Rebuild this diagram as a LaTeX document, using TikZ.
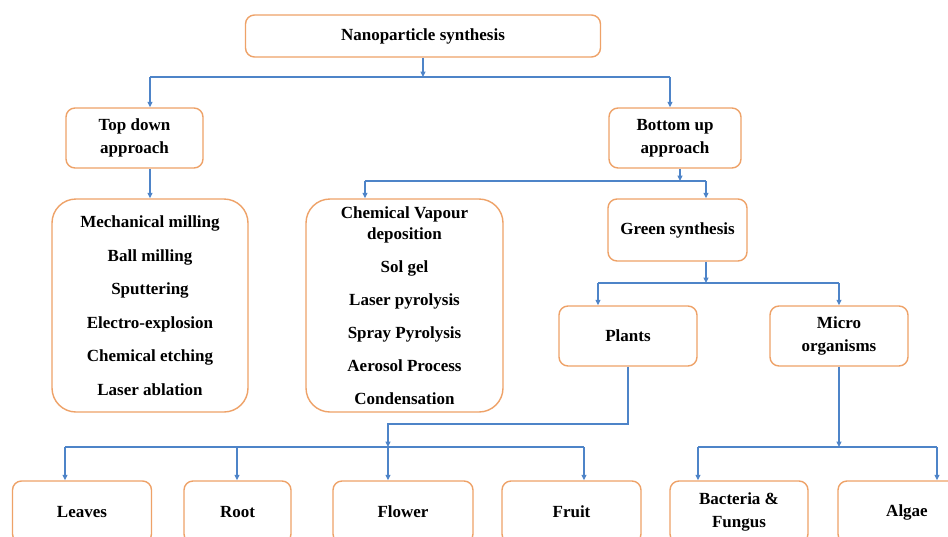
\documentclass[tikz,border=0pt]{standalone}
\usepackage{fontspec}
\setmainfont{Liberation Serif}
\usetikzlibrary{arrows.meta}
\definecolor{boxorange}{RGB}{238,162,104}
\definecolor{lineblue}{RGB}{78,132,200}
\begin{document}
\begin{tikzpicture}[x=1pt,y=-1pt,
  box/.style={draw=boxorange, line width=1.4pt, rounded corners=9pt, fill=white,
    align=center, inner sep=0pt, font=\fontsize{17}{23}\selectfont\bfseries},
  listbox/.style={box, rounded corners=24pt, font=\fontsize{17}{33.5}\selectfont\bfseries},
  ln/.style={draw=lineblue, line width=1.1pt},
  arr/.style={ln, -{Triangle[length=5.5pt,width=5pt]}}]
\useasboundingbox (0,0) rectangle (948,536);
\clip (0,0) rectangle (948,536);

% boxes
\node[box, minimum width=355pt, minimum height=42pt] (nano) at (423,36) {Nanoparticle synthesis};
\node[box, minimum width=137pt, minimum height=60pt] (td) at (134.5,138) {Top down\\approach};
\node[box, minimum width=132pt, minimum height=60pt] (bu) at (675,138) {Bottom up\\approach};
\node[listbox, minimum width=196pt, minimum height=213pt] (l1) at (150,305.5)
  {Mechanical milling\\Ball milling\\Sputtering\\Electro-explosion\\Chemical etching\\Laser ablation};
\node[listbox, minimum width=197pt, minimum height=213pt, font=\fontsize{17}{33}\selectfont\bfseries] (l2) at (404.5,305.5)
  {Chemical Vapour\\[-12pt]deposition\\Sol gel\\Laser pyrolysis\\Spray Pyrolysis\\Aerosol Process\\Condensation};
\node[box, minimum width=139pt, minimum height=62pt] (green) at (677.5,230) {Green synthesis};
\node[box, minimum width=138pt, minimum height=60pt] (plants) at (628,336) {Plants};
\node[box, minimum width=138pt, minimum height=60pt] (micro) at (839,336) {Micro\\organisms};
\node[box, minimum width=139pt, minimum height=62pt] (leaves) at (82,512) {Leaves};
\node[box, minimum width=107pt, minimum height=62pt] (root) at (237.5,512) {Root};
\node[box, minimum width=140pt, minimum height=62pt] (flower) at (403,512) {Flower};
\node[box, minimum width=139pt, minimum height=62pt] (fruit) at (571.5,512) {Fruit};
\node[box, minimum width=138pt, minimum height=62pt] (bact) at (739,512) {Bacteria \&\\Fungus};
\node[box, minimum width=138pt, minimum height=62pt] (algae) at (907,512) {Algae};

% junction coordinates
\coordinate (j1) at (423,77);
\coordinate (tdin) at (150,77);
\coordinate (buin) at (670,77);
\coordinate (j2) at (680,181);
\coordinate (l2in) at (365,181);
\coordinate (gin) at (706,181);
\coordinate (j3) at (706,283);
\coordinate (pin) at (598,283);
\coordinate (min) at (839,283);
\coordinate (k1) at (628,424);
\coordinate (k2) at (388,424);
\coordinate (j4) at (388,447);
\coordinate (lvin) at (65,447);
\coordinate (rtin) at (237,447);
\coordinate (frin) at (584,447);
\coordinate (j5) at (839,447);
\coordinate (bain) at (698,447);
\coordinate (alin) at (937,447);

% connectors
\draw[arr] (nano.south) -- (j1);
\draw[ln] (tdin) -- (buin);
\draw[arr] (tdin) -- (tdin |- td.north);
\draw[arr] (buin) -- (buin |- bu.north);
\draw[arr] (td.south -| l1.north) -- (l1.north);

\draw[arr] (j2 |- bu.south) -- (j2);
\draw[ln] (l2in) -- (gin);
\draw[arr] (l2in) -- (l2in |- l2.north);
\draw[arr] (gin) -- (gin |- green.north);

\draw[arr] (gin |- green.south) -- (j3);
\draw[ln] (pin) -- (min);
\draw[arr] (pin) -- (pin |- plants.north);
\draw[arr] (min) -- (min |- micro.north);

\draw[arr] (k1 |- plants.south) -- (k1) -- (k2) -- (j4);
\draw[ln] (lvin) -- (frin);
\draw[arr] (lvin) -- (lvin |- leaves.north);
\draw[arr] (rtin) -- (rtin |- root.north);
\draw[arr] (j4) -- (j4 |- flower.north);
\draw[arr] (frin) -- (frin |- fruit.north);

\draw[arr] (micro.south) -- (j5);
\draw[ln] (bain) -- (alin);
\draw[arr] (bain) -- (bain |- bact.north);
\draw[arr] (alin) -- (alin |- algae.north);
\end{tikzpicture}
\end{document}
